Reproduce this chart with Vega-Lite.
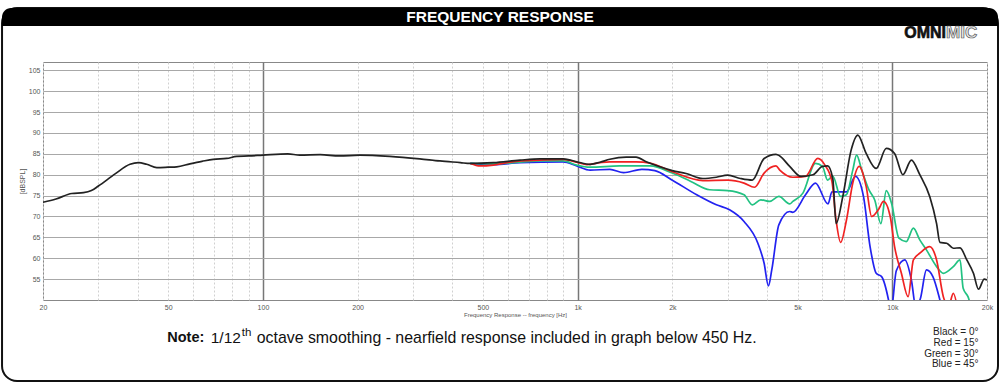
{
  "$schema": "https://vega.github.io/schema/vega-lite/v6.json",
  "width": 944,
  "height": 238,
  "autosize": {"type": "none"},
  "padding": {"left": 43, "top": 62, "right": 13, "bottom": 84},
  "background": "white",
  "view": {"stroke": "#888", "strokeWidth": 1},
  "config": {"font": "Liberation Sans"},
  "layer": [
    {
      "data": {"values": [{}]},
      "mark": {"type": "rect", "fill": "white", "fillOpacity": 0, "stroke": "#111", "strokeWidth": 2, "cornerRadius": 15, "clip": false},
      "encoding": {
        "x": {"datum": 14.82, "type": "quantitative"},
        "x2": {"datum": 21676},
        "y": {"datum": 119.93, "type": "quantitative"},
        "y2": {"datum": 30.6}
      }
    },
    {
      "data": {"values": [{}]},
      "mark": {"type": "rect", "fill": "#000", "cornerRadiusTopLeft": 15, "cornerRadiusTopRight": 15, "clip": false},
      "encoding": {
        "x": {"datum": 14.82, "type": "quantitative"},
        "x2": {"datum": 21676},
        "y": {"datum": 119.93, "type": "quantitative"},
        "y2": {"datum": 115.62}
      }
    },
    {
      "data": {"values": [{}]},
      "mark": {"type": "text", "text": "FREQUENCY RESPONSE", "color": "white", "fontWeight": "bold", "fontSize": 15.5, "align": "center", "baseline": "middle"},
      "encoding": {"x": {"datum": 566.8, "type": "quantitative"}, "y": {"datum": 117.66, "type": "quantitative"}}
    },
    {
      "data": {"values": [{}]},
      "mark": {"type": "text", "text": "OMNI", "fill": "#111", "stroke": "#111", "strokeWidth": 0.6, "fontWeight": 900, "fontSize": 16, "align": "right", "baseline": "middle"},
      "encoding": {"x": {"datum": 14816, "type": "quantitative"}, "y": {"datum": 113.95, "type": "quantitative"}}
    },
    {
      "data": {"values": [{}]},
      "mark": {"type": "text", "text": "MIC", "fill": "#e8e8e8", "stroke": "#555", "strokeWidth": 0.7, "fontWeight": "bold", "fontSize": 17, "align": "left", "baseline": "middle"},
      "encoding": {"x": {"datum": 14816, "type": "quantitative"}, "y": {"datum": 113.95, "type": "quantitative"}}
    },
    {
      "data": {"values": [{}]},
      "mark": {"type": "text", "text": "Note:", "color": "#111", "fontWeight": "bold", "fontSize": 14.5, "align": "left", "baseline": "middle"},
      "encoding": {"x": {"datum": 49.66, "type": "quantitative"}, "y": {"datum": 40.9, "type": "quantitative"}}
    },
    {
      "data": {"values": [{}]},
      "mark": {"type": "text", "text": "1/12", "color": "#111", "fontSize": 15.5, "align": "left", "baseline": "middle"},
      "encoding": {"x": {"datum": 68.24, "type": "quantitative"}, "y": {"datum": 40.9, "type": "quantitative"}}
    },
    {
      "data": {"values": [{}]},
      "mark": {"type": "text", "text": "th", "color": "#111", "fontSize": 11.5, "align": "left", "baseline": "middle"},
      "encoding": {"x": {"datum": 85.61, "type": "quantitative"}, "y": {"datum": 42.1, "type": "quantitative"}}
    },
    {
      "data": {"values": [{}]},
      "mark": {"type": "text", "text": "octave smoothing - nearfield response included in graph below 450 Hz.", "color": "#111", "fontSize": 15.9, "align": "left", "baseline": "middle"},
      "encoding": {"x": {"datum": 95.53, "type": "quantitative"}, "y": {"datum": 40.9, "type": "quantitative"}}
    },
    {
      "data": {"values": [{}]},
      "mark": {"type": "text", "text": ["Black = 0°", "Red = 15°", "Green = 30°", "Blue = 45°"], "color": "#222", "fontSize": 10, "align": "right", "baseline": "alphabetic", "lineHeight": 10.7},
      "encoding": {"x": {"datum": 18792, "type": "quantitative"}, "y": {"datum": 41.55, "type": "quantitative"}}
    },
    {
      "data": {"values": [
        {"s":"Blue","f":456,"db":82.7},{"s":"Blue","f":540,"db":82.4},{"s":"Blue","f":656,"db":82.9},{"s":"Blue","f":900,"db":83.1},{"s":"Blue","f":994,"db":82.1},{"s":"Blue","f":1096,"db":81.1},{"s":"Blue","f":1266,"db":81.3},{"s":"Blue","f":1400,"db":80.5},{"s":"Blue","f":1600,"db":81.3},{"s":"Blue","f":1760,"db":81.0},{"s":"Blue","f":2000,"db":78.7},{"s":"Blue","f":2390,"db":75.2},{"s":"Blue","f":2760,"db":72.8},{"s":"Blue","f":3040,"db":71.6},{"s":"Blue","f":3380,"db":68.8},{"s":"Blue","f":3740,"db":63.6},{"s":"Blue","f":3915,"db":58.8},{"s":"Blue","f":4040,"db":53.4},{"s":"Blue","f":4140,"db":57.2},{"s":"Blue","f":4360,"db":68.0},{"s":"Blue","f":4720,"db":71.2},{"s":"Blue","f":4830,"db":71.0},{"s":"Blue","f":5300,"db":75.2},{"s":"Blue","f":5700,"db":78.0},{"s":"Blue","f":6250,"db":73.0},{"s":"Blue","f":6430,"db":75.9},{"s":"Blue","f":7150,"db":75.9},{"s":"Blue","f":7640,"db":79.6},{"s":"Blue","f":8100,"db":74.8},{"s":"Blue","f":8500,"db":62.8},{"s":"Blue","f":8890,"db":56.4},{"s":"Blue","f":9250,"db":55.6},{"s":"Blue","f":9730,"db":50.0},{"s":"Blue","f":9900,"db":47.0},{"s":"Blue","f":10300,"db":57.0},{"s":"Blue","f":10960,"db":59.6},{"s":"Blue","f":11500,"db":54.8},{"s":"Blue","f":11900,"db":48.0},{"s":"Blue","f":12300,"db":50.5},{"s":"Blue","f":12840,"db":57.2},{"s":"Blue","f":13460,"db":55.6},{"s":"Blue","f":14170,"db":50.0},{"s":"Blue","f":14500,"db":47.0},
        {"s":"Green","f":456,"db":82.7},{"s":"Green","f":540,"db":82.6},{"s":"Green","f":656,"db":83.0},{"s":"Green","f":759,"db":83.3},{"s":"Green","f":900,"db":83.3},{"s":"Green","f":994,"db":82.3},{"s":"Green","f":1096,"db":81.8},{"s":"Green","f":1360,"db":82.1},{"s":"Green","f":1700,"db":82.1},{"s":"Green","f":2000,"db":80.4},{"s":"Green","f":2290,"db":78.4},{"s":"Green","f":2630,"db":76.4},{"s":"Green","f":3000,"db":76.2},{"s":"Green","f":3380,"db":75.2},{"s":"Green","f":3590,"db":72.8},{"s":"Green","f":3820,"db":74.0},{"s":"Green","f":4080,"db":73.6},{"s":"Green","f":4360,"db":74.8},{"s":"Green","f":4720,"db":73.0},{"s":"Green","f":4830,"db":73.6},{"s":"Green","f":5200,"db":75.6},{"s":"Green","f":5700,"db":82.7},{"s":"Green","f":6000,"db":82.0},{"s":"Green","f":6230,"db":78.7},{"s":"Green","f":6470,"db":79.7},{"s":"Green","f":6850,"db":74.8},{"s":"Green","f":7150,"db":75.2},{"s":"Green","f":7490,"db":81.1},{"s":"Green","f":7700,"db":84.7},{"s":"Green","f":8000,"db":81.1},{"s":"Green","f":8440,"db":76.3},{"s":"Green","f":8800,"db":73.9},{"s":"Green","f":9200,"db":68.3},{"s":"Green","f":9570,"db":76.2},{"s":"Green","f":9950,"db":73.1},{"s":"Green","f":10500,"db":64.8},{"s":"Green","f":11080,"db":64.0},{"s":"Green","f":11670,"db":67.2},{"s":"Green","f":12230,"db":64.4},{"s":"Green","f":12840,"db":62.0},{"s":"Green","f":13830,"db":58.0},{"s":"Green","f":14530,"db":56.4},{"s":"Green","f":15630,"db":58.0},{"s":"Green","f":16420,"db":59.6},{"s":"Green","f":16800,"db":52.8},{"s":"Green","f":17400,"db":50.8},{"s":"Green","f":18000,"db":47.0},
        {"s":"Red","f":456,"db":82.7},{"s":"Red","f":490,"db":82.1},{"s":"Red","f":540,"db":82.3},{"s":"Red","f":620,"db":83.1},{"s":"Red","f":759,"db":83.5},{"s":"Red","f":900,"db":83.7},{"s":"Red","f":994,"db":83.0},{"s":"Red","f":1070,"db":82.4},{"s":"Red","f":1180,"db":82.9},{"s":"Red","f":1266,"db":83.1},{"s":"Red","f":1534,"db":83.1},{"s":"Red","f":1700,"db":82.8},{"s":"Red","f":2000,"db":80.7},{"s":"Red","f":2500,"db":78.6},{"s":"Red","f":3000,"db":78.7},{"s":"Red","f":3380,"db":78.0},{"s":"Red","f":3650,"db":77.0},{"s":"Red","f":3915,"db":80.4},{"s":"Red","f":4270,"db":82.1},{"s":"Red","f":4390,"db":81.1},{"s":"Red","f":4830,"db":79.4},{"s":"Red","f":5300,"db":79.6},{"s":"Red","f":5800,"db":83.9},{"s":"Red","f":6110,"db":82.3},{"s":"Red","f":6430,"db":78.4},{"s":"Red","f":6630,"db":69.1},{"s":"Red","f":6850,"db":63.8},{"s":"Red","f":7150,"db":69.1},{"s":"Red","f":7490,"db":78.0},{"s":"Red","f":7850,"db":82.0},{"s":"Red","f":8260,"db":77.2},{"s":"Red","f":8600,"db":70.0},{"s":"Red","f":9030,"db":71.6},{"s":"Red","f":9380,"db":73.6},{"s":"Red","f":9850,"db":70.0},{"s":"Red","f":10170,"db":62.8},{"s":"Red","f":10690,"db":56.4},{"s":"Red","f":11230,"db":50.8},{"s":"Red","f":11670,"db":59.6},{"s":"Red","f":12230,"db":61.2},{"s":"Red","f":13160,"db":62.8},{"s":"Red","f":13830,"db":59.6},{"s":"Red","f":14530,"db":50.8},{"s":"Red","f":15100,"db":48.5},{"s":"Red","f":15630,"db":51.6},{"s":"Red","f":16200,"db":47.0},
        {"s":"Black","f":20,"db":73.4},{"s":"Black","f":22,"db":74.2},{"s":"Black","f":24.7,"db":75.5},{"s":"Black","f":26.9,"db":75.7},{"s":"Black","f":28.5,"db":76.2},{"s":"Black","f":30,"db":77.3},{"s":"Black","f":33.9,"db":80.2},{"s":"Black","f":37.8,"db":82.5},{"s":"Black","f":40.2,"db":82.9},{"s":"Black","f":42.7,"db":82.5},{"s":"Black","f":46,"db":81.7},{"s":"Black","f":50,"db":81.8},{"s":"Black","f":53.2,"db":81.9},{"s":"Black","f":58.6,"db":82.6},{"s":"Black","f":64,"db":83.2},{"s":"Black","f":69.5,"db":83.7},{"s":"Black","f":76.7,"db":83.9},{"s":"Black","f":82.5,"db":84.4},{"s":"Black","f":90,"db":84.5},{"s":"Black","f":100,"db":84.7},{"s":"Black","f":120,"db":85.0},{"s":"Black","f":131,"db":84.7},{"s":"Black","f":152,"db":84.8},{"s":"Black","f":175,"db":84.5},{"s":"Black","f":203,"db":84.7},{"s":"Black","f":253,"db":84.4},{"s":"Black","f":315,"db":83.8},{"s":"Black","f":365,"db":83.3},{"s":"Black","f":424,"db":82.9},{"s":"Black","f":456,"db":82.7},{"s":"Black","f":540,"db":82.9},{"s":"Black","f":656,"db":83.5},{"s":"Black","f":759,"db":83.8},{"s":"Black","f":900,"db":83.8},{"s":"Black","f":994,"db":83.1},{"s":"Black","f":1096,"db":82.5},{"s":"Black","f":1178,"db":83.0},{"s":"Black","f":1266,"db":83.7},{"s":"Black","f":1427,"db":84.2},{"s":"Black","f":1534,"db":84.2},{"s":"Black","f":1652,"db":83.1},{"s":"Black","f":1826,"db":81.9},{"s":"Black","f":2000,"db":81.0},{"s":"Black","f":2212,"db":80.3},{"s":"Black","f":2500,"db":79.1},{"s":"Black","f":2760,"db":79.4},{"s":"Black","f":3000,"db":79.9},{"s":"Black","f":3290,"db":79.1},{"s":"Black","f":3590,"db":78.7},{"s":"Black","f":3915,"db":83.9},{"s":"Black","f":4270,"db":84.9},{"s":"Black","f":4390,"db":84.5},{"s":"Black","f":4720,"db":82.0},{"s":"Black","f":5130,"db":79.6},{"s":"Black","f":5600,"db":80.0},{"s":"Black","f":6000,"db":82.0},{"s":"Black","f":6230,"db":82.1},{"s":"Black","f":6470,"db":79.1},{"s":"Black","f":6630,"db":68.3},{"s":"Black","f":6960,"db":74.7},{"s":"Black","f":7400,"db":85.9},{"s":"Black","f":7770,"db":89.5},{"s":"Black","f":8260,"db":85.1},{"s":"Black","f":8890,"db":81.5},{"s":"Black","f":9570,"db":86.3},{"s":"Black","f":10170,"db":85.1},{"s":"Black","f":10810,"db":80.0},{"s":"Black","f":11500,"db":83.5},{"s":"Black","f":12230,"db":80.0},{"s":"Black","f":13160,"db":74.7},{"s":"Black","f":13830,"db":68.3},{"s":"Black","f":14170,"db":63.8},{"s":"Black","f":14890,"db":63.6},{"s":"Black","f":15630,"db":62.4},{"s":"Black","f":16420,"db":62.5},{"s":"Black","f":17250,"db":59.6},{"s":"Black","f":18110,"db":56.4},{"s":"Black","f":18800,"db":52.6},{"s":"Black","f":19600,"db":55.0},{"s":"Black","f":20000,"db":54.8}
      ]},
      "mark": {"type": "line", "clip": true, "strokeWidth": 1.7, "interpolate": "monotone"},
      "encoding": {
        "x": {
          "field": "f", "type": "quantitative",
          "scale": {"type": "log", "domain": [20, 20000], "nice": false},
          "axis": {
            "values": [20,30,40,50,60,70,80,90,100,200,300,400,500,600,700,800,900,1000,2000,3000,4000,5000,6000,7000,8000,9000,10000,20000],
            "tickCount": 60,
            "labelExpr": "indexof([20,50,100,200,500,1000,2000,5000,10000,20000], datum.value) >= 0 ? (datum.value >= 1000 ? (datum.value/1000) + 'k' : datum.value + '') : ''",
            "labelOverlap": false, "labelFlush": false, "labelFontSize": 7, "labelColor": "#555", "labelPadding": 3,
            "ticks": false, "domain": false,
            "grid": true,
            "gridColor": {"condition": {"test": "indexof([100,1000,10000], datum.value) >= 0", "value": "#777"}, "value": "#d0d0d0"},
            "gridDash": {"condition": {"test": "indexof([100,1000,10000], datum.value) >= 0", "value": []}, "value": [2, 2]},
            "gridWidth": {"condition": {"test": "indexof([100,1000,10000], datum.value) >= 0", "value": 1.5}, "value": 1},
            "title": "Frequency Response -- frequency [Hz]", "titleFontSize": 6, "titleFontWeight": "normal", "titleColor": "#555", "titlePadding": 1
          }
        },
        "y": {
          "field": "db", "type": "quantitative",
          "scale": {"domain": [50, 107], "nice": false, "zero": false},
          "axis": {
            "values": [55,60,65,70,75,80,85,90,95,100,105],
            "tickCount": 30,
            "labelOverlap": false,
            "labelFontSize": 7, "labelColor": "#555", "labelPadding": 3, "labelFlush": false,
            "ticks": false, "domain": false,
            "grid": true, "gridColor": "#a8a8a8", "gridWidth": 1,
            "title": "[dBSPL]", "titleFontSize": 7, "titleFontWeight": "normal", "titleColor": "#555", "titlePadding": 3
          }
        },
        "color": {
          "field": "s", "type": "nominal",
          "scale": {"domain": ["Blue", "Green", "Red", "Black"], "range": ["#2222f0", "#22c282", "#f02222", "#222222"]},
          "legend": null
        }
      }
    }
  ]
}
